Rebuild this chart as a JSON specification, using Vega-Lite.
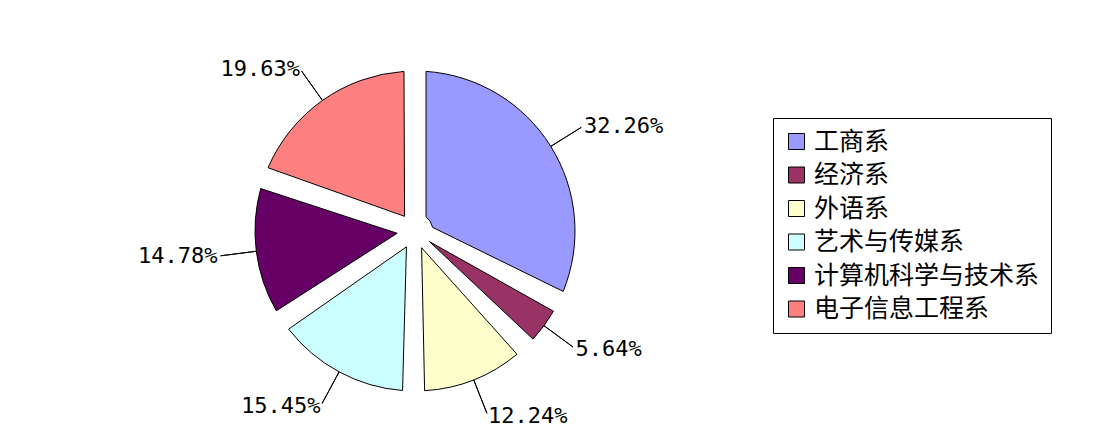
{
  "$schema": "https://vega.github.io/schema/vega-lite/v6.json",
  "width": 830,
  "height": 424,
  "padding": {"left": 0, "top": 19, "right": 0, "bottom": 0},
  "background": "white",
  "config": {"view": {"stroke": null}},
  "data": {
    "values": [
      {"dept": "工商系", "share": 0.3226},
      {"dept": "经济系", "share": 0.0564},
      {"dept": "外语系", "share": 0.1224},
      {"dept": "艺术与传媒系", "share": 0.1545},
      {"dept": "计算机科学与技术系", "share": 0.1478},
      {"dept": "电子信息工程系", "share": 0.1963}
    ]
  },
  "transform": [{"window": [{"op": "row_number", "as": "idx"}]}],
  "encoding": {
    "theta": {"field": "share", "type": "quantitative", "stack": true},
    "order": {"field": "idx", "type": "quantitative"},
    "detail": {"field": "dept", "type": "nominal"}
  },
  "layer": [
    {
      "mark": {"type": "arc", "innerRadius": 18, "outerRadius": 160, "padAngle": 0.137, "stroke": "black", "strokeWidth": 1},
      "encoding": {
        "color": {
          "field": "dept",
          "type": "nominal",
          "scale": {
            "domain": ["工商系", "经济系", "外语系", "艺术与传媒系", "计算机科学与技术系", "电子信息工程系"],
            "range": ["#9999FF", "#993366", "#FFFFCC", "#CCFFFF", "#660066", "#FF8080"]
          },
          "legend": {
            "title": null,
            "orient": "none",
            "legendX": 773,
            "legendY": 99,
            "strokeColor": "black",
            "fillColor": "white",
            "padding": 11,
            "symbolType": "square",
            "symbolSize": 256,
            "symbolStrokeColor": "black",
            "symbolStrokeWidth": 1,
            "symbolOpacity": 1,
            "labelFont": "Noto Sans CJK SC",
            "labelFontSize": 25,
            "labelColor": "black",
            "labelOffset": 5,
            "labelLimit": 400,
            "rowPadding": 7.5
          }
        }
      }
    },
    {
      "mark": {"type": "arc", "innerRadius": 160, "outerRadius": 196, "padAngle": 3.14159, "filled": false, "stroke": "black", "strokeWidth": 1}
    },
    {
      "mark": {"type": "text", "radius": 199, "align": "left", "baseline": "middle", "font": "DejaVu Sans Mono", "fontSize": 22, "fill": "black"},
      "encoding": {
        "text": {
          "condition": {"test": "indexof(['工商系','经济系','外语系'], datum.dept) >= 0", "field": "share", "type": "quantitative", "format": ".2%"},
          "value": ""
        }
      }
    },
    {
      "mark": {"type": "text", "radius": 199, "align": "right", "baseline": "middle", "font": "DejaVu Sans Mono", "fontSize": 22, "fill": "black"},
      "encoding": {
        "text": {
          "condition": {"test": "indexof(['工商系','经济系','外语系'], datum.dept) < 0", "field": "share", "type": "quantitative", "format": ".2%"},
          "value": ""
        }
      }
    }
  ]
}
